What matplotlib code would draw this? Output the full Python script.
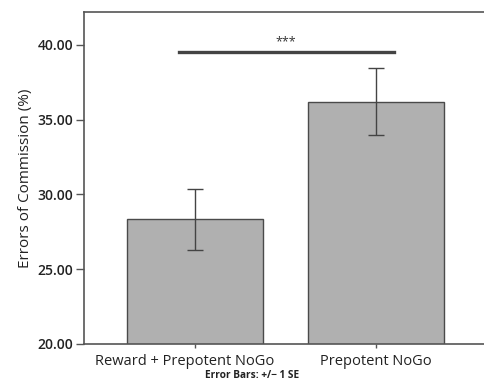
import matplotlib
matplotlib.use("Agg")
import matplotlib.pyplot as plt
import matplotlib.transforms as mtransforms

categories = ["Reward + Prepotent NoGo", "Prepotent NoGo"]
means = [28.33, 36.20]
se = [2.03, 2.25]
yticks = [20.0, 25.0, 30.0, 35.0, 40.0]
sig_y = 39.53
sig_label = "***"

plt.rcParams['font.family'] = ['Open Sans', 'DejaVu Sans']

fig = plt.figure(figsize=(4.84, 3.82), dpi=100)
ax = fig.add_axes([0.1736, 0.0995, 0.8264, 0.8691])

x = list(range(len(categories)))
ax.bar(x, means, width=0.75, color="#b0b0b0", edgecolor="#4a4a4a", linewidth=1.0, zorder=2)
ax.errorbar(x, means, yerr=se, fmt="none", ecolor="#444444", elinewidth=1.0,
            capsize=6, capthick=1.0, zorder=3)

ax.set_xlim(-0.613, 1.597)
ax.set_ylim(20, 42.2)
ax.set_yticks(yticks)
ax.set_yticklabels([f"{v:.2f}" for v in yticks], fontsize=10, fontweight="semibold", color="#222222")
ax.set_xticks(x)
ax.set_xticklabels(categories, fontsize=10.5, color="#222222")
ax.tick_params(axis="y", length=6, width=1, color="#555555", pad=2)
ax.tick_params(axis="x", length=3, width=1, color="#555555", pad=4)
ax.set_ylabel("Errors of Commission (%)", fontsize=11, labelpad=3, color="#222222")

# first category label sits slightly left of its tick in the reference
lbl = ax.get_xticklabels()[0]
lbl.set_transform(lbl.get_transform() + mtransforms.ScaledTranslation(-10 / 100, 0, fig.dpi_scale_trans))

for s in ["left", "top", "bottom"]:
    ax.spines[s].set_color("#555555")
    ax.spines[s].set_linewidth(1.2)
ax.spines["right"].set_visible(False)

ax.plot([-0.088, 1.10], [sig_y, sig_y], color="#444444", linewidth=2.4, zorder=4)
ax.text(0.5, sig_y + 0.25, sig_label, ha="center", va="bottom", fontsize=9, color="#333333")

fig.text(0.52, 0.003, "Error Bars: +/\u2212 1 SE", ha="center", va="bottom",
         fontsize=7.3, fontweight="bold", color="#222222")

fig.savefig("out.png", dpi=100)
